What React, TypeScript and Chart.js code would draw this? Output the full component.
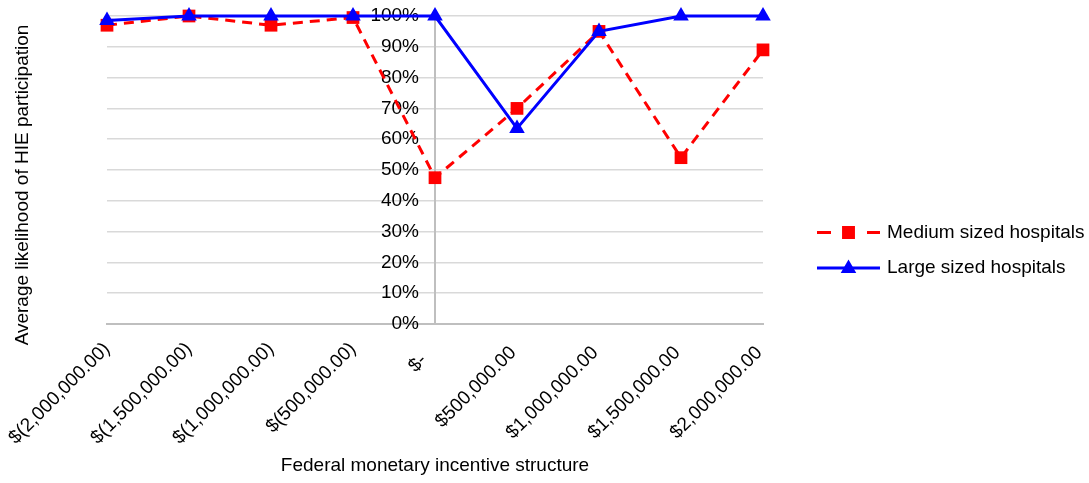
import React, { useEffect, useRef } from "react";
import { Chart, registerables } from "chart.js";
import { drawPoint } from "chart.js/helpers";

Chart.register(...registerables);

// Accounting-style labels: positives carry a trailing space where ")" would sit
const categories = [
  "$(2,000,000.00)",
  "$(1,500,000.00)",
  "$(1,000,000.00)",
  "$(500,000.00)",
  "$-   ",
  "$500,000.00 ",
  "$1,000,000.00 ",
  "$1,500,000.00 ",
  "$2,000,000.00 ",
];
const mediumValues = [0.97, 1.0, 0.97, 0.995, 0.475, 0.7, 0.95, 0.54, 0.89];
const largeValues = [0.985, 1.0, 1.0, 1.0, 1.0, 0.635, 0.95, 1.0, 1.0];
const seriesNames = ["Medium sized hospitals", "Large sized hospitals"];
const yTickValues = [0, 0.1, 0.2, 0.3, 0.4, 0.5, 0.6, 0.7, 0.8, 0.9, 1.0];
const xTitle = "Federal monetary incentive structure";
const yTitle = "Average likelihood of HIE participation";

const FONT = "'Liberation Sans', Arial, sans-serif";
const FS = 19;
const TEXT = "#000000";

function shiftLabels(scale: any, area: any, dx: number, dy: number) {
  const items = scale.getLabelItems(area);
  items.forEach((it: any) => {
    if (it.__shifted) return;
    it.__shifted = true;
    const t = it.options.translation;
    it.options.translation = [t[0] + dx, t[1] + dy];
  });
}

const overlayPlugin = {
  id: "overlay",
  beforeDraw(chart: any) {
    shiftLabels(chart.scales.y, chart.chartArea, -16, 0);
  },
  afterDraw(chart: any) {
    const ctx = chart.ctx;
    ctx.save();
    ctx.font = `${FS}px ${FONT}`;
    ctx.fillStyle = TEXT;
    ctx.textAlign = "center";
    ctx.textBaseline = "middle";
    ctx.translate(23, 185);
    ctx.rotate(-Math.PI / 2);
    ctx.fillText(yTitle, 0, 0);
    ctx.restore();

    const x0 = 817;
    const x1 = 880;
    const xm = (x0 + x1) / 2;
    const rows = [232.5, 268];
    chart.data.datasets.forEach((ds: any, i: number) => {
      const y = rows[i];
      ctx.save();
      ctx.strokeStyle = ds.borderColor;
      ctx.lineWidth = ds.borderWidth;
      ctx.beginPath();
      if (ds.borderDash && ds.borderDash.length) {
        ctx.moveTo(x0, y);
        ctx.lineTo(x0 + 14, y);
        ctx.moveTo(x1 - 13, y);
        ctx.lineTo(x1, y);
      } else {
        ctx.moveTo(x0, y);
        ctx.lineTo(x1, y);
      }
      ctx.stroke();
      ctx.fillStyle = ds.pointBackgroundColor;
      ctx.strokeStyle = ds.pointBorderColor;
      const isTri = ds.pointStyle === "triangle";
      drawPoint(
        ctx,
        { pointStyle: ds.pointStyle, rotation: 0, borderWidth: 1, radius: isTri ? 6 : 7 } as any,
        xm,
        y + (isTri ? 0.5 : 0)
      );
      ctx.font = `${FS}px ${FONT}`;
      ctx.fillStyle = TEXT;
      ctx.textAlign = "left";
      ctx.textBaseline = "middle";
      ctx.fillText(ds.label, 887, y);
      ctx.restore();
    });
  },
};

export default function App() {
  const ref = useRef<HTMLCanvasElement | null>(null);
  useEffect(() => {
    if (!ref.current) return;
    const font = { family: FONT, size: FS };
    const chart = new Chart(ref.current, {
      type: "line",
      data: {
        labels: categories,
        datasets: [
          {
            label: seriesNames[0],
            data: mediumValues,
            borderColor: "#ff0000",
            backgroundColor: "#ff0000",
            borderWidth: 3,
            borderDash: [10, 7],
            pointStyle: "rect",
            pointRadius: 9,
            pointBackgroundColor: "#ff0000",
            pointBorderColor: "#ff0000",
            pointBorderWidth: 0,
            tension: 0,
            clip: false,
            order: 2,
          } as any,
          {
            label: seriesNames[1],
            data: largeValues,
            borderColor: "#0000ff",
            backgroundColor: "#0000ff",
            borderWidth: 3,
            pointStyle: "triangle",
            pointRadius: 9,
            pointBackgroundColor: "#0000ff",
            pointBorderColor: "#0000ff",
            pointBorderWidth: 0,
            tension: 0,
            clip: false,
            order: 1,
          } as any,
        ],
      },
      options: {
        animation: false,
        responsive: true,
        maintainAspectRatio: false,
        layout: { padding: { left: 107, right: 326, top: 16, bottom: 6 } },
        plugins: { legend: { display: false }, tooltip: { enabled: false } },
        scales: {
          x: {
            type: "category",
            offset: false,
            afterFit: (scale: any) => {
              scale.height = 153;
              scale.paddingLeft = 0;
              scale.paddingRight = 0;
            },
            grid: { display: false, drawTicks: false },
            border: { display: true, color: "#bfbfbf", width: 2 },
            ticks: {
              autoSkip: false,
              maxRotation: 45,
              minRotation: 45,
              padding: 14,
              font,
              color: TEXT,
            },
            title: {
              display: true,
              text: xTitle,
              font,
              color: TEXT,
              padding: { top: 4, bottom: 0 },
            },
          },
          y: {
            position: { x: 4 } as any,
            min: 0,
            max: 1,
            afterFit: (scale: any) => {
              scale.paddingTop = 0;
              scale.paddingBottom = 0;
            },
            afterBuildTicks: (scale: any) => {
              scale.ticks = yTickValues.map((v) => ({ value: v }));
            },
            grid: { color: "#d9d9d9", lineWidth: 1.5, drawTicks: false },
            border: { display: true, color: "#bfbfbf", width: 2 },
            ticks: {
              padding: 0,
              font,
              color: TEXT,
              callback: (v: any) => Math.round(Number(v) * 100) + "%",
            },
          },
        },
      },
      plugins: [overlayPlugin],
    });
    return () => chart.destroy();
  }, []);
  return (
    <div style={{ position: "fixed", left: 0, top: 0, width: 1089, height: 483, background: "#fff" }}>
      <canvas ref={ref} />
    </div>
  );
}
